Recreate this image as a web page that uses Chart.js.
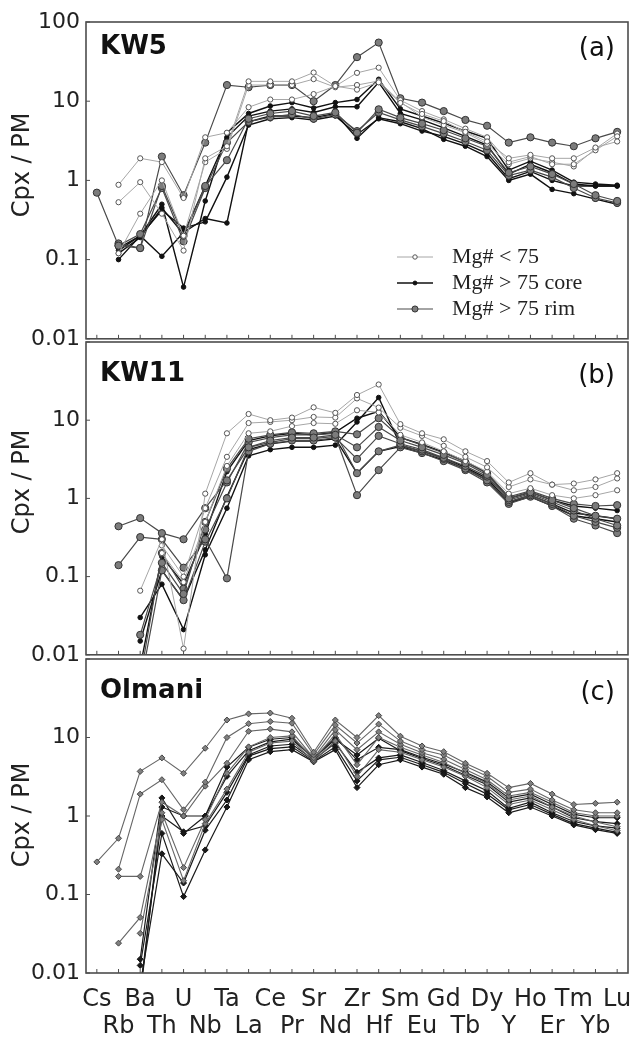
<!DOCTYPE html>
<html>
<head>
<meta charset="utf-8">
<script src="https://cdn.jsdelivr.net/npm/chart.js@4"></script>
<style>
  html, body { margin: 0; padding: 0; background: #fff; }
  #wrap { position: relative; width: 634px; height: 1039px; overflow: hidden; }
  #wrap canvas { position: absolute; left: 0; }
</style>
</head>
<body>
<div id="wrap">
  <canvas id="panelA" width="634" height="358" style="top:0px"></canvas>
  <canvas id="panelB" width="634" height="352" style="top:322px"></canvas>
  <canvas id="panelC" width="634" height="400" style="top:639px"></canvas>
</div>
<script>
// element order along the x axis
const ELEMENTS = ["Cs","Rb","Ba","Th","U","Nb","Ta","La","Ce","Pr","Sr","Nd","Zr","Hf","Sm","Eu","Gd","Tb","Dy","Y","Ho","Er","Tm","Yb","Lu"];
const DECADES = [0.01, 0.1, 1, 10, 100];

// (a) KW5 -- Mg# < 75
const kw5_o1 = [null, 0.88, 1.9, 1.7, 0.6, 3.5, 4.0, 8.4, 10.5, 10.5, 12.3, 15.5, 14, 17.3, 9.5, 6.9, 5.6, 4.1, 3.1, 1.9, 2.1, 1.9, 1.9, 2.6, 3.1];
const kw5_o2 = [null, 0.53, 0.95, 0.38, 0.13, 1.9, 2.7, 17.8, 17.8, 17.8, 23, 15.5, 22.8, 26.5, 10.3, 7.5, 5.9, 4.5, 3.5, 1.7, 2.0, 1.6, 1.6, 2.4, 3.6];
const kw5_o3 = [null, 0.12, 0.38, 1.0, 0.2, 1.7, 2.5, 16, 16, 16, 19, 15, 16, 18, 9.8, 6.3, 5.0, 4.0, 2.9, 1.6, 1.9, 1.7, 1.5, 2.5, 3.9];
// (a) KW5 -- Mg# > 75 core
const kw5_c1 = [null, 0.1, 0.2, 0.5, 0.045, 0.55, 4.0, 7.0, 8.7, 9.6, 8.2, 9.6, 10.5, 18.9, 8.0, 6.5, 5.3, 4.2, 3.4, 1.35, 1.75, 1.35, 0.95, 0.9, 0.87];
const kw5_c2 = [null, 0.13, 0.2, 0.11, 0.22, 0.33, 0.29, 5.5, 6.5, 6.5, 6.2, 7.0, 3.4, 6.2, 5.5, 4.5, 3.3, 2.7, 2.0, 1.0, 1.2, 0.77, 0.68, 0.58, 0.5];
const kw5_c3 = [null, 0.14, 0.2, 0.42, 0.25, 0.3, 1.1, 5.0, 6.0, 6.2, 5.8, 6.5, 3.8, 6.0, 5.2, 4.2, 3.6, 2.9, 2.2, 1.05, 1.3, 1.0, 0.85, 0.85, 0.85];
const kw5_c4 = [null, 0.12, 0.19, 0.45, 0.21, 0.85, 3.5, 6.5, 7.5, 8.0, 7.2, 8.5, 8.5, 17.3, 7.0, 5.8, 4.6, 3.6, 2.8, 1.2, 1.6, 1.25, 0.9, 0.85, 0.85];
// (a) KW5 -- Mg# > 75 rim
const kw5_r1 = [0.7, 0.15, 0.14, 2.0, 0.65, 3.0, 16, 15, 16, 16, 10, 16, 36, 55, 10.9, 9.6, 7.5, 5.8, 4.9, 3.0, 3.5, 3.0, 2.7, 3.4, 4.1];
const kw5_r2 = [null, 0.16, 0.14, 0.85, 0.2, 0.85, 1.8, 6.0, 7.0, 7.5, 6.5, 7.2, 4.0, 7.9, 6.2, 5.2, 4.3, 3.4, 2.7, 1.25, 1.5, 1.2, 0.9, 0.65, 0.55];
const kw5_r3 = [null, 0.15, 0.21, 0.8, 0.17, 0.8, 3.0, 5.5, 6.3, 6.8, 6.0, 6.8, 4.2, 7.2, 5.8, 4.8, 3.9, 3.1, 2.4, 1.15, 1.35, 1.1, 0.8, 0.6, 0.52];

// (b) KW11
const kw11_o1 = [null, null, 0.066, 0.3, 0.012, 1.15, 6.8, 12, 10, 10.8, 14.6, 12.4, 21, 28.6, 8.9, 6.8, 5.7, 4.0, 3.0, 1.6, 2.1, 1.5, 1.55, 1.75, 2.1];
const kw11_o2 = [null, null, null, 0.25, 0.1, 0.75, 3.4, 9.2, 9.5, 10, 11, 10.8, 19, 14.5, 8.0, 6.3, 4.7, 3.4, 2.5, 1.4, 1.75, 1.5, 1.27, 1.4, 1.8];
const kw11_o3 = [null, null, null, 0.2, 0.085, 0.5, 2.6, 6.8, 7.2, 8.4, 9.2, 9.0, 13.4, 12.6, 6.5, 5.2, 4.0, 3.0, 2.2, 1.15, 1.35, 1.1, 1.0, 1.1, 1.27];
const kw11_c1 = [null, null, 0.03, 0.08, 0.021, 0.19, 0.75, 3.5, 4.2, 4.5, 4.5, 4.8, 9.5, 19.5, 4.8, 4.0, 3.3, 2.5, 1.8, 0.9, 1.1, 0.85, 0.65, 0.6, 0.55];
const kw11_c2 = [null, null, 0.015, 0.12, 0.05, 0.22, 1.05, 4.2, 5.0, 5.4, 5.4, 5.8, 2.1, 4.0, 4.6, 3.8, 3.1, 2.4, 1.7, 0.88, 1.05, 0.8, 0.6, 0.55, 0.5];
const kw11_c3 = [null, null, 0.007, 0.18, 0.08, 0.35, 2.2, 5.5, 6.3, 6.8, 6.5, 7.0, 10.6, 13, 6.0, 4.9, 3.9, 3.0, 2.1, 1.0, 1.2, 0.95, 0.8, 0.75, 0.7];
const kw11_r1 = [null, 0.44, 0.56, 0.36, 0.3, 0.75, 1.7, 4.5, 5.5, 6.0, 6.0, 6.5, 4.5, 8.2, 5.5, 4.5, 3.6, 2.8, 2.0, 1.0, 1.2, 0.95, 0.75, 0.6, 0.55];
const kw11_r2 = [null, 0.14, 0.32, 0.3, 0.13, 0.3, 0.095, 4.0, 5.0, 5.5, 5.5, 6.0, 3.2, 6.3, 5.0, 4.2, 3.3, 2.6, 1.9, 0.95, 1.15, 0.9, 0.7, 0.55, 0.45];
const kw11_r3 = [null, null, 0.018, 0.15, 0.06, 0.5, 2.4, 5.8, 6.5, 7.0, 6.8, 7.2, 6.6, 10.6, 6.0, 4.8, 3.8, 2.9, 2.1, 1.05, 1.25, 1.0, 0.85, 0.8, 0.82];
const kw11_r4 = [null, null, 0.005, 0.2, 0.07, 0.4, 1.6, 5.2, 6.0, 6.5, 6.5, 6.8, 2.1, 4.0, 4.8, 4.0, 3.2, 2.4, 1.7, 0.9, 1.1, 0.85, 0.6, 0.5, 0.42];
const kw11_r5 = [null, null, 0.004, 0.12, 0.05, 0.28, 1.0, 4.5, 5.2, 5.8, 5.8, 6.2, 1.1, 2.3, 4.5, 3.8, 3.0, 2.3, 1.6, 0.85, 1.05, 0.8, 0.55, 0.45, 0.36];

// (c) Olmani
const olm_c1 = [null, null, 0.015, 1.7, 0.6, 1.0, 4.2, 7.5, 9.5, 10, 5.5, 10, 5.2, 7.5, 7.0, 5.6, 4.6, 3.6, 2.7, 1.7, 1.9, 1.4, 1.05, 0.95, 0.95];
const olm_c2 = [null, null, 0.0125, 0.6, 0.094, 0.37, 1.3, 5.2, 6.6, 7.0, 4.9, 7.0, 2.3, 4.5, 5.2, 4.2, 3.4, 2.3, 1.75, 1.1, 1.3, 1.0, 0.77, 0.67, 0.6];
const olm_c3 = [null, null, 0.007, 0.33, 0.14, 0.66, 1.6, 5.8, 7.2, 7.6, 5.0, 7.6, 2.8, 5.2, 5.6, 4.5, 3.6, 2.6, 1.9, 1.2, 1.4, 1.05, 0.8, 0.7, 0.62];
const olm_c4 = [null, null, 0.006, 1.0, 0.63, 0.75, 2.0, 6.0, 7.8, 8.2, 5.2, 8.5, 3.6, 5.5, 6.0, 4.8, 3.8, 2.8, 2.1, 1.25, 1.5, 1.1, 0.85, 0.75, 0.7];
const olm_c5 = [null, null, 0.005, 1.3, 1.0, 1.0, 3.2, 6.8, 8.8, 9.5, 5.4, 9.5, 6.0, 9.8, 6.8, 5.4, 4.4, 3.3, 2.5, 1.5, 1.7, 1.3, 0.95, 0.85, 0.8];
const olm_r1 = [0.26, 0.52, 3.7, 5.5, 3.5, 7.3, 16.7, 20, 20.5, 17.6, 6.5, 16.7, 10, 19, 10.4, 7.8, 6.6, 4.7, 3.5, 2.3, 2.6, 1.9, 1.4, 1.45, 1.5];
const olm_r2 = [null, 0.21, 1.9, 2.9, 1.2, 2.7, 10, 15, 16, 15.2, 6.0, 14.4, 8.5, 14.8, 9.0, 7.0, 6.0, 4.3, 3.2, 2.0, 2.2, 1.6, 1.2, 1.1, 1.1];
const olm_r3 = [null, 0.17, 0.17, 1.5, 1.0, 2.4, 4.7, 12, 12.8, 11.8, 5.5, 12.5, 7.0, 11.8, 8.2, 6.4, 5.3, 3.9, 2.9, 1.8, 2.0, 1.5, 1.1, 1.0, 1.0];
const olm_r4 = [null, 0.024, 0.051, 1.1, 0.22, 0.9, 3.5, 7.6, 10, 10.5, 5.2, 11, 4.5, 10, 7.5, 6.0, 4.8, 3.5, 2.6, 1.6, 1.8, 1.3, 1.0, 0.84, 0.73];
const olm_r5 = [null, null, 0.032, 0.9, 0.15, 0.8, 2.2, 6.5, 8.5, 9.0, 5.0, 9.0, 3.2, 7.0, 6.5, 5.2, 4.2, 3.2, 2.3, 1.4, 1.6, 1.2, 0.9, 0.75, 0.65];

// look of each sample group
const STYLES = {
  open:  { borderColor: "#a6a6a6", borderWidth: 1,   pointStyle: "circle",  pointRadius: 2.6, pointBackgroundColor: "#fff",    pointBorderColor: "#555", pointBorderWidth: 1 },
  core:  { borderColor: "#111",    borderWidth: 1.4, pointStyle: "circle",  pointRadius: 2.3, pointBackgroundColor: "#111",    pointBorderColor: "#111", pointBorderWidth: 1 },
  rim:   { borderColor: "#4a4a4a", borderWidth: 1.2, pointStyle: "circle",  pointRadius: 3.6, pointBackgroundColor: "#7c7c7c", pointBorderColor: "#333", pointBorderWidth: 1 },
  oCore: { borderColor: "#1a1a1a", borderWidth: 1.2, pointStyle: "rectRot", pointRadius: 3.0, pointBackgroundColor: "#1a1a1a", pointBorderColor: "#111", pointBorderWidth: 1 },
  oRim:  { borderColor: "#666",    borderWidth: 1.1, pointStyle: "rectRot", pointRadius: 3.0, pointBackgroundColor: "#808080", pointBorderColor: "#444", pointBorderWidth: 1 }
};

function makeSets(list, style) {
  return list.map((data) => Object.assign({ data: data, pointHoverRadius: 0 }, STYLES[style]));
}

const FONT = "DejaVu Sans";

// frame, inward ticks, panel names and the in-plot legends
const panelDecor = {
  id: "panelDecor",
  afterDatasetsDraw(chart, args, opts) {
    const ctx = chart.ctx;
    const a = chart.chartArea;
    const xs = chart.scales.x, ys = chart.scales.y;
    ctx.save();
    ctx.strokeStyle = "#4d4d4d";
    ctx.lineWidth = 1.6;
    ctx.strokeRect(a.left, a.top, a.right - a.left, a.bottom - a.top);
    ctx.lineWidth = 1;
    ELEMENTS.forEach((e, i) => {
      const px = xs.getPixelForValue(i);
      ctx.beginPath(); ctx.moveTo(px, a.bottom); ctx.lineTo(px, a.bottom - 4); ctx.stroke();
    });
    DECADES.forEach((v) => {
      const py = ys.getPixelForValue(v);
      ctx.beginPath(); ctx.moveTo(a.left, py); ctx.lineTo(a.left + 4, py); ctx.stroke();
    });

    ctx.fillStyle = "#111";
    ctx.textBaseline = "middle";
    ctx.textAlign = "left";
    ctx.font = "bold 26px '" + FONT + "'";
    ctx.fillText(opts.name, a.left + 14, a.top + opts.nameDy);
    ctx.font = "26px '" + FONT + "'";
    ctx.textAlign = "right";
    ctx.fillText(opts.letter, a.right - 13, a.top + opts.nameDy + 2);

    // y axis title
    ctx.save();
    ctx.translate(23, opts.titleY);
    ctx.rotate(-Math.PI / 2);
    ctx.textAlign = "center";
    ctx.fillStyle = "#222";
    ctx.font = "24px '" + FONT + "'";
    ctx.fillText("Cpx / PM", 0, 0);
    ctx.restore();

    // legend
    ctx.font = "22px 'Liberation Serif'";
    ctx.textAlign = "left";
    opts.legend.forEach((item, k) => {
      const st = STYLES[item.style];
      const y = opts.legendY + k * opts.legendGap;
      ctx.strokeStyle = st.borderColor;
      ctx.lineWidth = st.borderWidth;
      ctx.beginPath(); ctx.moveTo(opts.legendX, y); ctx.lineTo(opts.legendX + 36, y); ctx.stroke();
      ctx.fillStyle = st.pointBackgroundColor;
      ctx.strokeStyle = st.pointBorderColor;
      ctx.lineWidth = 1;
      Chart.helpers.drawPoint(ctx, {
        pointStyle: st.pointStyle, radius: st.pointRadius * 0.85, rotation: 0, borderWidth: 1
      }, opts.legendX + 18, y);
      ctx.fillStyle = "#222";
      ctx.fillText(item.text, opts.legendX + 55, y);
    });
    ctx.restore();
  }
};

function yAxis(showTop) {
  return {
    type: "logarithmic",
    min: 0.01,
    max: 100,
    grid: { display: false, drawTicks: false },
    border: { display: false },
    afterBuildTicks: (s) => { s.ticks = DECADES.map((v) => ({ value: v })); },
    afterFit: (s) => { s.width = 86; },
    ticks: {
      padding: 6,
      color: "#222",
      font: { family: FONT, size: 22 },
      callback: (v) => (v === 100 && !showTop) ? "" : String(v)
    }
  };
}

function makePanel(id, datasets, pad, decor, withLabels) {
  const xAxis = {
    type: "category",
    offset: true,
    display: withLabels,
    grid: { display: false, drawTicks: false },
    border: { display: false },
    ticks: {
      autoSkip: false,
      maxRotation: 0,
      minRotation: 0,
      padding: 13,
      color: "#222",
      font: { family: FONT, size: 24, lineHeight: 1.13 },
      callback: (v, i) => (i % 2 === 0 ? [ELEMENTS[i], ""] : ["", ELEMENTS[i]])
    },
    afterFit: (s) => {
      if (withLabels) s.height = 66;
      // let the last label hang past the frame instead of shrinking the plot
      s.paddingLeft = 0;
      s.paddingRight = 0;
    }
  };
  new Chart(document.getElementById(id), {
    type: "line",
    data: { labels: ELEMENTS, datasets: datasets },
    options: {
      responsive: false,
      animation: false,
      layout: { padding: { left: 0, right: 6, top: pad.top, bottom: pad.bottom } },
      plugins: { legend: { display: false }, tooltip: { enabled: false }, panelDecor: decor },
      scales: { x: xAxis, y: yAxis(id === "panelA") }
    },
    plugins: [panelDecor]
  });
}

makePanel("panelA",
  [].concat(
    makeSets([kw5_o1, kw5_o2, kw5_o3], "open"),
    makeSets([kw5_r1, kw5_r2, kw5_r3], "rim"),
    makeSets([kw5_c1, kw5_c2, kw5_c3, kw5_c4], "core")
  ),
  { top: 22, bottom: 16 },
  { name: "KW5", letter: "(a)", nameDy: 25, titleY: 165,
    legendX: 397, legendY: 257, legendGap: 26,
    legend: [ { style: "open", text: "Mg# < 75" }, { style: "core", text: "Mg# > 75 core" }, { style: "rim", text: "Mg# > 75 rim" } ] },
  false);

makePanel("panelB",
  [].concat(
    makeSets([kw11_o1, kw11_o2, kw11_o3], "open"),
    makeSets([kw11_r1, kw11_r2, kw11_r3, kw11_r4, kw11_r5], "rim"),
    makeSets([kw11_c1, kw11_c2, kw11_c3], "core")
  ),
  { top: 20, bottom: 16 },
  { name: "KW11", letter: "(b)", nameDy: 32, titleY: 482 - 322, legend: [] },
  false);

makePanel("panelC",
  [].concat(
    makeSets([olm_r1, olm_r2, olm_r3, olm_r4, olm_r5], "oRim"),
    makeSets([olm_c1, olm_c2, olm_c3, olm_c4, olm_c5], "oCore")
  ),
  { top: 20, bottom: 0 },
  { name: "Olmani", letter: "(c)", nameDy: 32, titleY: 815 - 639,
    legendX: 520, legendY: 902, legendGap: 24,
    legend: [ { style: "oCore", text: "core" }, { style: "oRim", text: "rim" } ] },
  true);
</script>
</body>
</html>
